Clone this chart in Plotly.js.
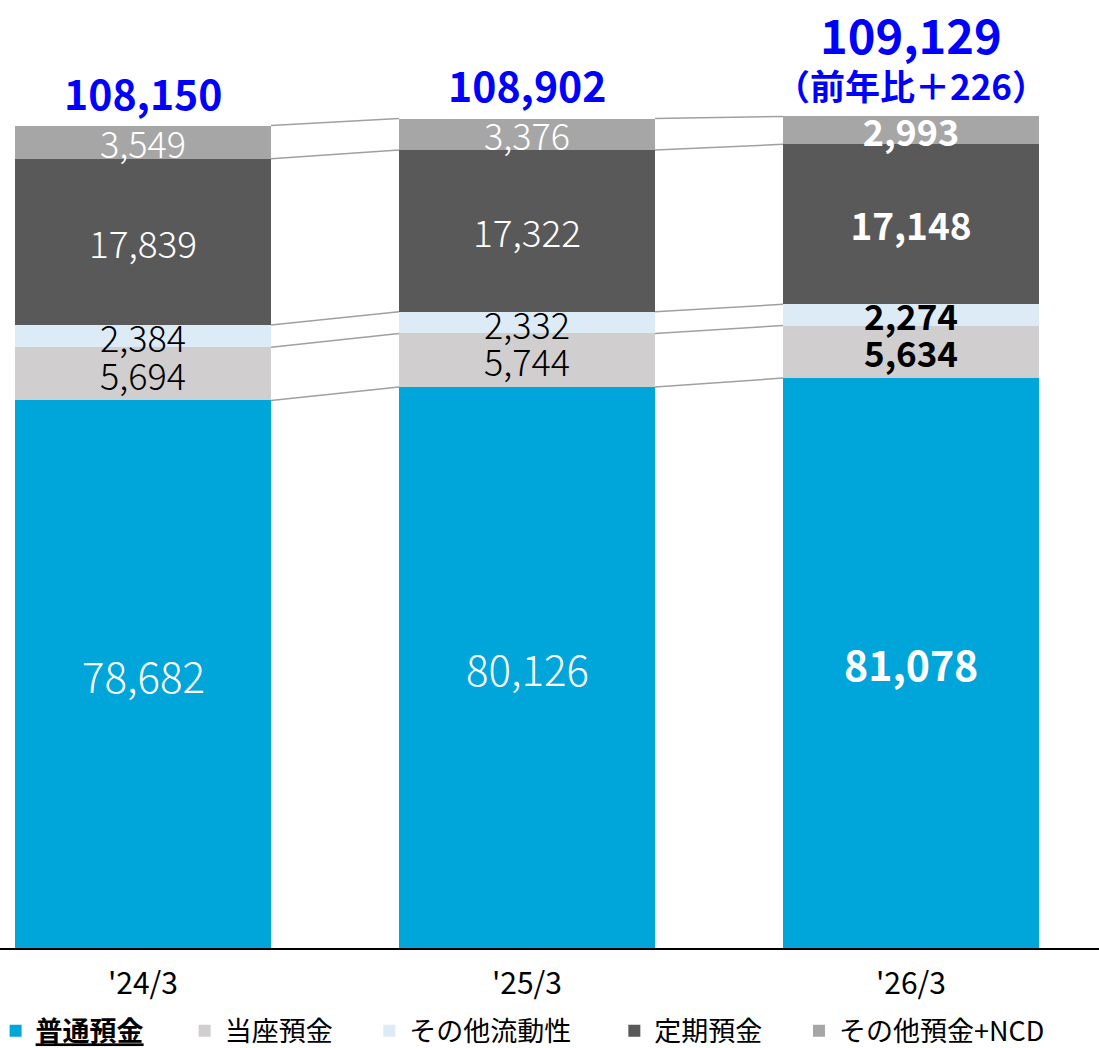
<!DOCTYPE html>
<html>
<head>
<meta charset="utf-8">
<script src="https://cdn.plot.ly/plotly-3.0.1.min.js"></script>
<style>
html,body{margin:0;padding:0;background:#fff;}
#chart{width:1099px;height:1048px;}
</style>
</head>
<body>
<div id="chart"></div>
<script>
// ---- data ----
const categories = ["'24/3", "'25/3", "'26/3"];
const seriesNames = ["普通預金", "当座預金", "その他流動性", "定期預金", "その他預金+NCD"];
const futsu   = [78682, 80126, 81078];   // 普通預金
const touza   = [5694, 5744, 5634];      // 当座預金
const ryudo   = [2384, 2332, 2274];      // その他流動性
const teiki   = [17839, 17322, 17148];   // 定期預金
const sonota  = [3549, 3376, 2993];      // その他預金+NCD
const totals  = [108150, 108902, 109129];
const yoyText = "（前年比＋226）";

// ---- styles ----
const colors = ["#00A6D9", "#D0CECE", "#DDEBF7", "#595959", "#A6A6A6"];
const labelColors = ["#FFFFFF", "#000000", "#000000", "#FFFFFF", "#FFFFFF"];
const labelSizes = [42, 36, 36, 37, 36];
const lastSizes = [41, 35, 35, 37, 36];
const FONT = "'Noto Sans CJK JP', 'Noto Sans', sans-serif";
const xs = categories.map((c, i) => i);
const barW = 0.6667;
const yRange = [20000, 121600];
const legendX = [-0.004, 0.168, 0.336, 0.559, 0.727];

const fmt = v => v.toLocaleString('en-US');
const series = [futsu, touza, ryudo, teiki, sonota];
const isLast = i => i === xs.length - 1;

const traces = series.map((vals, s) => ({
  type: 'bar',
  name: s === 0 ? '<b><u>' + seriesNames[s] + '</u></b>' : seriesNames[s],
  legend: s === 0 ? 'legend' : 'legend' + (s + 1),
  x: xs,
  y: vals,
  width: barW,
  marker: {color: colors[s], line: {width: 0}},
  text: s === 0 ? vals.map(() => '') :
        vals.map((v, i) => isLast(i) ? '<b>' + fmt(v) + '</b>' : fmt(v)),
  textposition: 'inside',
  insidetextanchor: 'middle',
  constraintext: 'none',
  textangle: 0,
  textfont: {
    family: FONT,
    color: labelColors[s],
    size: vals.map((v, i) => isLast(i) ? lastSizes[s] : labelSizes[s]),
    weight: 300
  },
  hoverinfo: 'skip'
}));

// connector lines between segment boundaries
let cum = [0, 0, 0];
series.forEach((vals) => {
  cum = cum.map((c, i) => c + vals[i]);
  const lx = [], ly = [];
  for (let i = 0; i < cum.length - 1; i++) {
    lx.push(xs[i] + barW / 2, xs[i + 1] - barW / 2, null);
    ly.push(cum[i], cum[i + 1], null);
  }
  traces.push({
    type: 'scatter', mode: 'lines', x: lx, y: ly,
    line: {color: '#A0A0A0', width: 1.5},
    showlegend: false, hoverinfo: 'skip'
  });
});

// labels for the bottom segment (centred on its visible part)
const annotations = futsu.map((v, i) => ({
  x: xs[i], y: (yRange[0] + v) / 2, xref: 'x', yref: 'y',
  text: isLast(i) ? '<b>' + fmt(v) + '</b>' : fmt(v),
  showarrow: false,
  font: {family: FONT, size: isLast(i) ? lastSizes[0] : labelSizes[0], color: labelColors[0], weight: 300}
}));

totals.forEach((t, i) => annotations.push({
  x: xs[i], y: t, xref: 'x', yref: 'y',
  text: '<b>' + fmt(t) + '</b>',
  showarrow: false, yanchor: 'bottom',
  yshift: isLast(i) ? 46 : 2,
  font: {family: FONT, size: isLast(i) ? 47 : 41, color: '#0000FF'}
}));
annotations.push({
  x: xs[xs.length - 1], y: totals[totals.length - 1], xref: 'x', yref: 'y',
  text: '<b>' + yoyText + '</b>', showarrow: false, yanchor: 'bottom', yshift: 4,
  font: {family: FONT, size: 35, color: '#0000FF'}
});

const legendBase = {
  orientation: 'h', xanchor: 'left', y: -0.062, yanchor: 'top',
  font: {family: FONT, size: 27, color: '#000000'},
  itemwidth: 30, bgcolor: 'rgba(0,0,0,0)'
};

const layout = {
  width: 1099, height: 1048,
  margin: {l: 0, r: 0, t: 0, b: 100, autoexpand: false},
  paper_bgcolor: '#FFFFFF', plot_bgcolor: '#FFFFFF',
  barmode: 'stack',
  showlegend: true,
  font: {family: FONT, color: '#000000'},
  xaxis: {
    range: [-0.3724, 2.4896],
    tickvals: xs, ticktext: categories,
    showline: true, linecolor: '#000000', linewidth: 2,
    showgrid: false, zeroline: false, ticks: '',
    tickfont: {family: FONT, size: 30, color: '#000000'},
    ticklabelstandoff: 8,
    fixedrange: true
  },
  yaxis: {range: yRange, visible: false, fixedrange: true},
  annotations: annotations
};
legendX.forEach((lx, k) => {
  layout[k === 0 ? 'legend' : 'legend' + (k + 1)] = Object.assign({}, legendBase, {x: lx});
});

Plotly.newPlot('chart', traces, layout, {displayModeBar: false, staticPlot: true});
</script>
</body>
</html>
